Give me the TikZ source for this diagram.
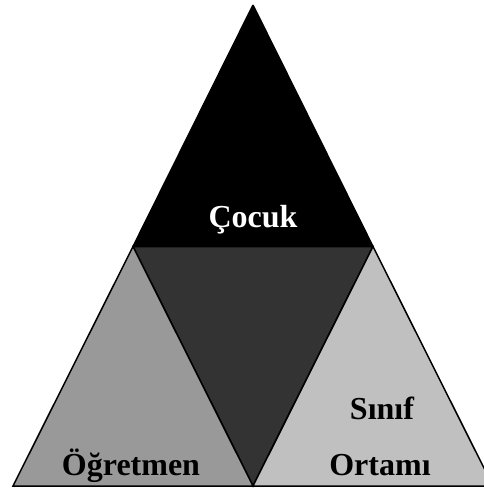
\documentclass[tikz,border=0pt]{standalone}
\usepackage{fontspec}
\setmainfont{Liberation Serif}
\definecolor{midgray}{HTML}{333333}
\definecolor{leftgray}{HTML}{999999}
\definecolor{rightgray}{HTML}{C0C0C0}
\begin{document}
\begin{tikzpicture}[x=1pt,y=-1pt,
  part/.style={draw=black,line width=1.5pt,line join=miter},
  lbl/.style={font=\fontsize{32}{37}\selectfont\bfseries,anchor=base,inner sep=0pt}]
\useasboundingbox (0,0) rectangle (484,488);
\clip (0,0) rectangle (484,488);
\coordinate (A) at (253,5);
\coordinate (BL) at (13,486);
\coordinate (BR) at (493,486);
\coordinate (ML) at (133,246.5);
\coordinate (MR) at (373,246.5);
\coordinate (MB) at (253,486);
\fill[black] (A) -- (ML) -- (MR) -- cycle;
\filldraw[part,fill=midgray] (ML) -- (MR) -- (MB) -- cycle;
\filldraw[part,fill=leftgray] (ML) -- (BL) -- (MB) -- cycle;
\filldraw[part,fill=rightgray] (MR) -- (MB) -- (BR) -- cycle;
\draw[part] (A) -- (ML) (A) -- (MR);
\node[lbl,text=white] (cocuk) at (253,227) {Çocuk};
\node[lbl] (ogretmen) at (131,475) {Öğretmen};
\node[lbl] (sinif) at (382,419) {Sınıf};
\node[lbl] (ortami) at (380,475) {Ortamı};
\end{tikzpicture}
\end{document}
